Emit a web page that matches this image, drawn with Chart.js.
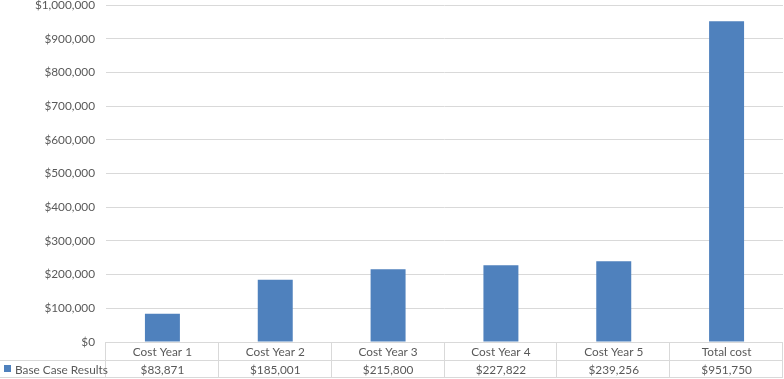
<!DOCTYPE html>
<html>
<head>
<meta charset="utf-8">
<script src="https://cdn.jsdelivr.net/npm/chart.js@4"></script>
<style>
  html, body { margin: 0; padding: 0; background: #fff; }
  #wrap { width: 784px; height: 379px; }
</style>
</head>
<body>
<div id="wrap"><canvas id="costChart" width="784" height="379"></canvas></div>
<script>
const categories = ["Cost Year 1", "Cost Year 2", "Cost Year 3", "Cost Year 4", "Cost Year 5", "Total cost"];
const seriesName = "Base Case Results";
const baseCase = [83871, 185001, 215800, 227822, 239256, 951750];

const FONT = "Lato, 'Open Sans', sans-serif";
const TEXT = "#595959";
const LINE = "#d9d9d9";
const BLUE = "#4f81bd";

const money = v => "$" + Math.round(v).toLocaleString("en-US");

// data table under the plot, drawn from the same arrays
const dataTable = {
  id: "dataTable",
  afterDraw(chart) {
    const { ctx, chartArea } = chart;
    const x = chart.scales.x;
    const top = chartArea.bottom;
    const rowH = 17.5;
    const left = chartArea.left, right = chartArea.right;
    ctx.save();
    ctx.strokeStyle = LINE;
    ctx.lineWidth = 1;
    ctx.beginPath();
    // horizontal lines
    ctx.moveTo(left, top + 0.5); ctx.lineTo(right, top + 0.5);
    ctx.moveTo(0, Math.round(top + rowH) + 0.5); ctx.lineTo(right, Math.round(top + rowH) + 0.5);
    ctx.moveTo(0, Math.round(top + rowH * 2) + 0.5); ctx.lineTo(right, Math.round(top + rowH * 2) + 0.5);
    // vertical lines
    const colW = (right - left) / categories.length;
    for (let i = 0; i <= categories.length; i++) {
      const xx = Math.round(left + colW * i) - 0.5;
      ctx.moveTo(xx, top); ctx.lineTo(xx, top + rowH * 2 + 0.5);
    }
    ctx.stroke();

    ctx.fillStyle = TEXT;
    ctx.font = "11.8px " + FONT;
    ctx.textAlign = "center";
    ctx.textBaseline = "middle";
    categories.forEach((c, i) => {
      const cx = x.getPixelForValue(i);
      ctx.fillText(c, cx, top + rowH / 2 + 1.5);
      ctx.fillText(money(baseCase[i]), cx, top + rowH * 1.5 + 1.5);
    });

    // legend key
    ctx.fillStyle = BLUE;
    ctx.fillRect(4, Math.round(top + rowH * 1.5) - 3, 7, 7);
    ctx.fillStyle = TEXT;
    ctx.textAlign = "left";
    ctx.fillText(seriesName, 15, top + rowH * 1.5 + 1.5);
    ctx.restore();
  }
};

new Chart(document.getElementById("costChart"), {
  type: "bar",
  data: {
    labels: categories,
    datasets: [{
      label: seriesName,
      data: baseCase,
      backgroundColor: BLUE,
      borderWidth: 0,
      barPercentage: 0.31,
      categoryPercentage: 1
    }]
  },
  options: {
    responsive: false,
    animation: false,
    layout: { padding: { top: 5, right: 1, bottom: 37, left: 0 } },
    plugins: {
      legend: { display: false },
      tooltip: { enabled: false }
    },
    scales: {
      x: { display: false },
      y: {
        min: 0,
        max: 1000000,
        ticks: {
          stepSize: 100000,
          color: TEXT,
          font: { family: FONT, size: 11.8 },
          padding: 11,
          callback: v => money(v)
        },
        grid: { color: LINE, drawTicks: false },
        border: { display: false },
        afterFit(scale) {
          scale.width = 106;
          scale.paddingTop = 0;
          scale.paddingBottom = 0;
        }
      }
    }
  },
  plugins: [dataTable]
});
</script>
</body>
</html>
